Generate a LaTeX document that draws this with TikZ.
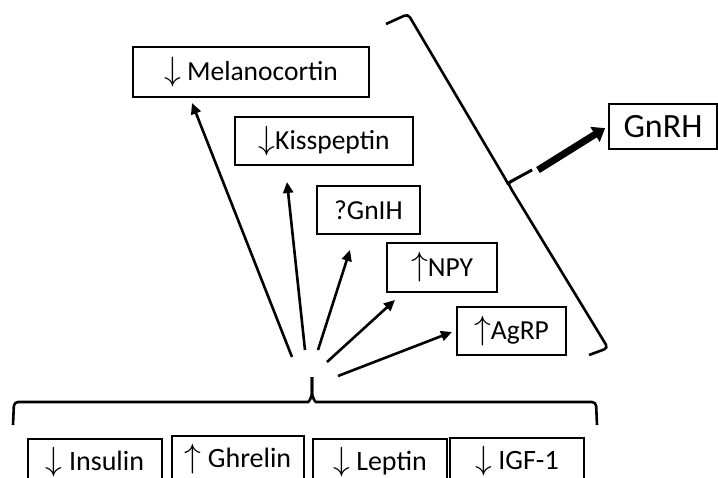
\documentclass[tikz,border=0pt]{standalone}
\usepackage{fontspec}
\usepackage{graphicx}
\setmainfont{Carlito}
\usetikzlibrary{arrows.meta}
\newcommand\arrdn{\raisebox{0.5pt}{\scalebox{1.35}{$\downarrow$}}}
\newcommand\arrup{\raisebox{0.5pt}{\scalebox{1.35}{$\uparrow$}}}
\begin{document}
\begin{tikzpicture}[x=1pt,y=-1pt,
  box/.style={draw,line width=2.6pt,inner sep=0pt,font=\fontsize{27.5}{32}\selectfont},
  conn/.style={line width=2.6pt,-{Triangle[length=11pt,width=10pt]}},
  bracepath/.style={line width=2.6pt,rounded corners=4pt}]
\useasboundingbox (0,0) rectangle (718,477);
\clip (0,0) rectangle (718,477);
% upper boxes
\node[box,minimum width=236pt,minimum height=50pt] (mel) at (251,72) {\arrdn\ Melanocortin};
\node[box,minimum width=178pt,minimum height=48pt] (kiss) at (324,141) {\arrdn Kisspeptin};
\node[box,minimum width=103pt,minimum height=48pt] (gnih) at (368.5,210) {?GnIH};
\node[box,minimum width=110pt,minimum height=49pt] (npy) at (442,267.5) {\arrup NPY};
\node[box,minimum width=109pt,minimum height=48pt] (agrp) at (511.5,331) {\arrup AgRP};
\node[box,minimum width=108pt,minimum height=45pt,font=\fontsize{34}{40}\selectfont] (gnrh) at (663,126.5) {GnRH};
% bottom boxes
\node[box,minimum width=134pt,minimum height=46pt,font=\fontsize{28}{32}\selectfont] (ins) at (95,462) {\arrdn\ Insulin};
\node[box,minimum width=132pt,minimum height=46pt,font=\fontsize{28}{32}\selectfont] (ghr) at (238,459) {\arrup\ Ghrelin};
\node[box,minimum width=134pt,minimum height=46pt,font=\fontsize{28}{32}\selectfont] (lep) at (380,462) {\arrdn\ Leptin};
\node[box,minimum width=134pt,minimum height=46pt,font=\fontsize{28}{32}\selectfont] (igf) at (517,461) {\arrdn\ IGF-1};
% bottom brace
\draw[bracepath] (13,425) -- (14,402) -- (304,402) .. controls (309,402) and (312,397) .. (312,388) -- (312,377);
\draw[bracepath] (312,377) -- (312,388) .. controls (312,397) and (315,402) .. (320,402) -- (596,402) -- (597,425);
% right bracket
\draw[bracepath] (386,24) -- (408,14) -- (506,180) .. controls (508,184) and (513,180) .. (532,170);
\draw[bracepath] (532,170) .. controls (516,179) and (508,182) .. (510,187) -- (608,348) -- (589,355);
% fan arrows
\coordinate (t1) at (292,357); \coordinate (h1) at (192,103);
\coordinate (t2) at (305,350); \coordinate (h2) at (287,182);
\coordinate (t3) at (318,350); \coordinate (h3) at (350,250);
\coordinate (t4) at (327,362); \coordinate (h4) at (395,300);
\coordinate (t5) at (338,376); \coordinate (h5) at (452,332);
\draw[conn] (t1) -- (h1);
\draw[conn] (t2) -- (h2);
\draw[conn] (t3) -- (h3);
\draw[conn] (t4) -- (h4);
\draw[conn] (t5) -- (h5);
% thick arrow
\coordinate (gt) at (538,170);
\draw[line width=7pt,-{Triangle[length=12pt,width=17pt]},shorten >=3pt] (gt) -- (gnrh.west);
\end{tikzpicture}
\end{document}
